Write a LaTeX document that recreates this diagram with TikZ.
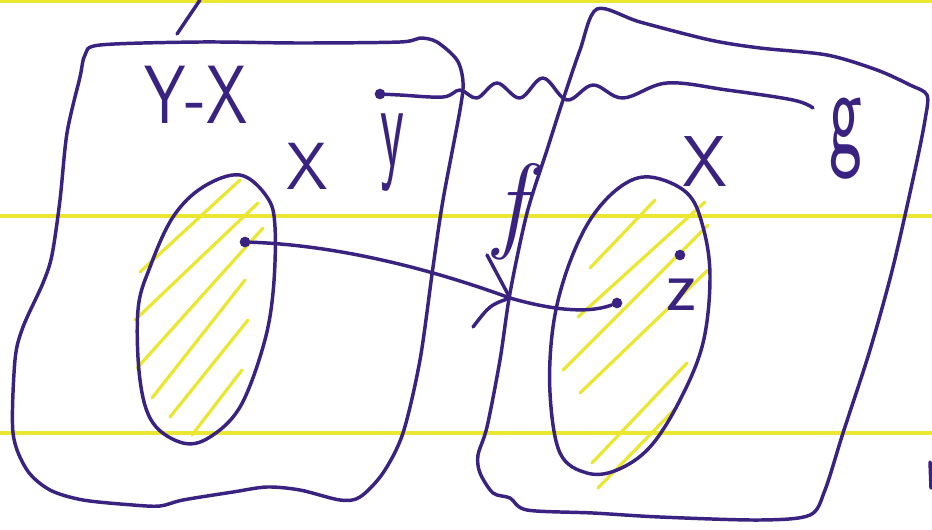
\documentclass[tikz,border=0pt]{standalone}
\usepackage{fontspec}
\usepackage{graphicx}
\definecolor{inkc}{RGB}{58,34,128}
\definecolor{hl}{RGB}{234,230,50}
\begin{document}
\begin{tikzpicture}[x=0.75pt,y=-0.75pt,
  pen/.style={draw=inkc,line width=2.6pt,line cap=round,line join=round},
  hatchline/.style={draw=hl,line width=2.4pt,line cap=round},
  ruleline/.style={draw=hl,line width=3pt},
  dotpt/.style={circle,fill=inkc,inner sep=0pt,minimum size=8pt},
  lbl/.style={text=inkc,inner sep=0pt,font=\sffamily}]
\useasboundingbox (0,0) rectangle (932,529);
% ruled lines
\draw[ruleline] (0,1) -- (932,1);
\draw[ruleline] (0,216) -- (932,216);
\draw[ruleline] (0,433) -- (932,433);
% hatching
\draw[hatchline] (140,272)--(240,180);
\draw[hatchline] (135,320)--(258,203);
\draw[hatchline] (137,368)--(263,228);
\draw[hatchline] (152,398)--(245,280);
\draw[hatchline] (170,417)--(248,320);
\draw[hatchline] (192,435)--(242,370);
\draw[hatchline] (590,268)--(655,200);
\draw[hatchline] (578,317)--(705,202);
\draw[hatchline] (563,370)--(708,225);
\draw[hatchline] (580,393)--(708,270);
\draw[hatchline] (592,463)--(687,363);
\draw[hatchline] (598,488)--(677,407);
% left box
\draw[pen] plot[smooth cycle,tension=0.5] coordinates {
 (85,55) (100,45) (200,42) (300,43) (400,42) (420,38) (437,42) (457,60) (463,82)
 (460,110) (443,200) (433,267) (420,360) (403,433) (383,473) (360,497) (340,500)
 (300,490) (267,487) (233,492) (183,500) (160,506) (133,505) (83,500) (50,490)
 (27,470) (13,433) (15,360) (23,327) (43,283) (52,255) (60,200) (67,133) (80,77)};
\draw[pen] (177,34) -- (200,0);
% right box
\draw[pen] plot[smooth cycle,tension=0.5] coordinates {
 (597,9) (640,22) (710,40) (760,48) (827,55) (877,70) (910,85) (927,95) (925,120)
 (915,170) (893,267) (870,350) (843,433) (825,490) (810,515) (760,520) (660,517)
 (593,513) (527,510) (510,498) (493,493) (480,473) (478,455) (487,427) (500,360)
 (510,293) (527,213) (547,150) (563,100) (580,50)};
\draw[pen] (930,462) -- (931,488);
% ellipses
\draw[pen] plot[smooth cycle,tension=0.6] coordinates {
 (240,175) (267,197) (275,227) (273,293) (263,347) (240,407) (210,437) (183,443)
 (153,423) (140,380) (138,310) (150,267) (173,217) (203,187)};
\draw[pen] plot[smooth cycle,tension=0.6] coordinates {
 (650,177) (687,193) (703,227) (710,277) (703,343) (680,400) (650,447) (617,470)
 (587,473) (560,453) (550,393) (553,327) (567,270) (590,220) (620,187)};
% points
\node[dotpt] (xd) at (245,242) {};
\node[dotpt] (yd) at (380,94) {};
\node[dotpt] (zd) at (680,255) {};
\node[dotpt] (fd) at (617,303) {};
% labels
\node[lbl] (YX) at (196,95) {\scalebox{0.8}[1]{\fontsize{62}{62}\selectfont Y-X}};
\node[lbl] (X1) at (307,166) {\fontsize{50}{50}\selectfont X};
\node[lbl] (ylab) at (392,153) {\scalebox{0.45}[1]{\fontsize{92}{92}\selectfont y}};
\node[lbl] (glab) at (846,139) {\scalebox{0.55}[1]{\fontsize{95}{95}\selectfont g}};
\node[lbl] (X2) at (705,162) {\fontsize{54}{54}\selectfont X};
\node[lbl] (zlab) at (681,295) {\fontsize{55}{55}\selectfont z};
\node[lbl,font=\rmfamily\itshape] (flab) at (510,212) {\fontsize{80}{80}\selectfont f};
% map f
\coordinate (tip) at (510,298);
\coordinate (h1) at (487,255);
\coordinate (h2) at (473,327);
\draw[pen] (xd) .. controls (330,245) and (420,265) .. (tip)
  .. controls (545,308) and (585,315) .. (fd);
\draw[pen] (h1) -- (tip);
\draw[pen] (h2) .. controls (490,305) .. (tip);
% map g
\coordinate (gend) at (813,108);
\draw[pen] plot[smooth,tension=0.6] coordinates {
 (yd) (400,95) (443,97) (460,90) (477,98) (497,83) (520,98) (543,78) (567,100)
 (593,85) (623,98) (667,83) (727,90) (793,100) (gend)};
\end{tikzpicture}
\end{document}
